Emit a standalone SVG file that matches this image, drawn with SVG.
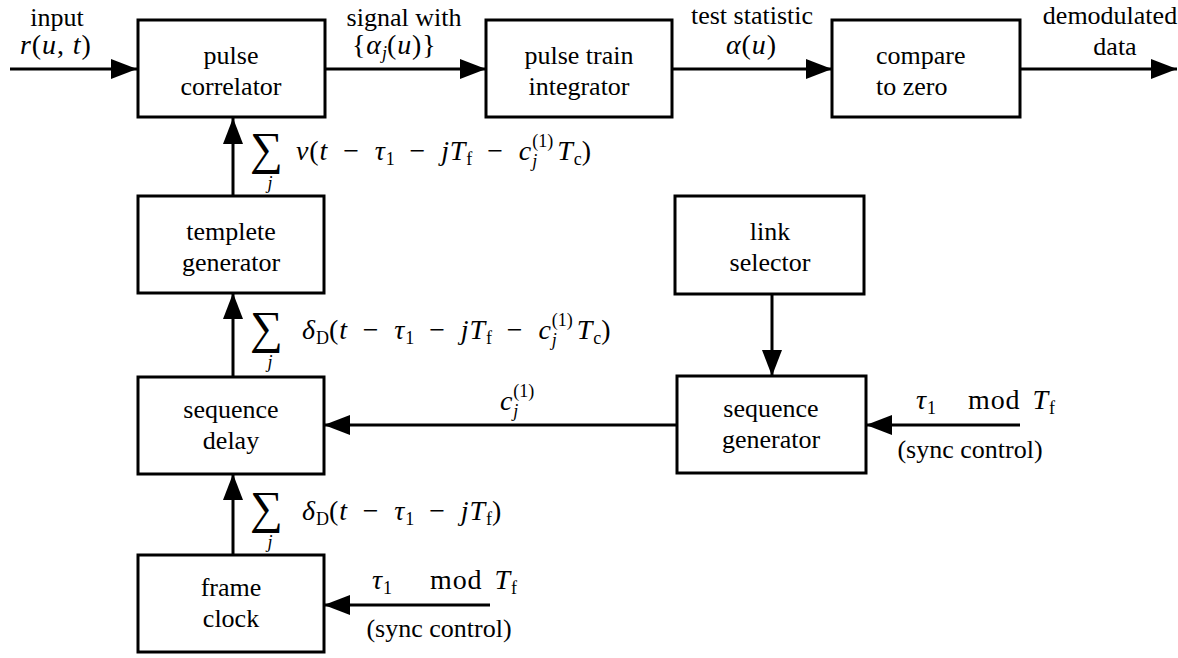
<svg xmlns="http://www.w3.org/2000/svg" width="1178" height="658" viewBox="0 0 1178 658" font-family="Liberation Serif, serif">
<style>
.box{fill:#fff;stroke:#000;stroke-width:3}
.ln{fill:none;stroke:#000;stroke-width:3}
text{fill:#000;font-family:"Liberation Serif",serif}
.t{font-size:26px;text-anchor:middle}
.tl{font-size:26px}
.m{font-size:28px;letter-spacing:0.9px}
.i{font-style:italic}
.sb{font-size:18px;letter-spacing:0}
.sum{font-size:46px}
.sj{font-size:18px;font-style:italic;text-anchor:middle}
</style>
<defs>
<marker id="ah" markerUnits="userSpaceOnUse" markerWidth="26" markerHeight="20" refX="26" refY="10" orient="auto">
<path d="M0,0 L26,10 L0,20 z" fill="#000"/>
</marker>
</defs>
<rect width="1178" height="658" fill="#fff"/>
<g id="connectors">
<line class="ln" x1="10" y1="69" x2="137" y2="69" marker-end="url(#ah)"/>
<line class="ln" x1="325" y1="69" x2="486" y2="69" marker-end="url(#ah)"/>
<line class="ln" x1="672" y1="69" x2="832" y2="69" marker-end="url(#ah)"/>
<line class="ln" x1="1020" y1="69" x2="1177" y2="69" marker-end="url(#ah)"/>
<line class="ln" x1="233" y1="196" x2="233" y2="118" marker-end="url(#ah)"/>
<line class="ln" x1="233" y1="377" x2="233" y2="293" marker-end="url(#ah)"/>
<line class="ln" x1="233" y1="555" x2="233" y2="474" marker-end="url(#ah)"/>
<line class="ln" x1="772" y1="294" x2="772" y2="376" marker-end="url(#ah)"/>
<line class="ln" x1="677" y1="425" x2="324" y2="425" marker-end="url(#ah)"/>
<line class="ln" x1="1020" y1="425" x2="866" y2="425" marker-end="url(#ah)"/>
<line class="ln" x1="490" y1="605" x2="324" y2="605" marker-end="url(#ah)"/>
</g>
<g id="pulse-correlator">
<rect class="box" x="138" y="20" width="187" height="97"/>
<text class="t" x="231" y="64">pulse</text>
<text class="t" x="231" y="95">correlator</text>
</g>
<g id="pulse-train-integrator">
<rect class="box" x="486" y="20" width="186" height="97"/>
<text class="t" x="579" y="64">pulse train</text>
<text class="t" x="579" y="95">integrator</text>
</g>
<g id="compare-to-zero">
<rect class="box" x="832" y="20" width="188" height="97"/>
<text class="tl" x="876" y="64">compare</text>
<text class="tl" x="876" y="95">to zero</text>
</g>
<g id="templete-generator">
<rect class="box" x="138" y="196" width="186" height="97"/>
<text class="t" x="231" y="240">templete</text>
<text class="t" x="231" y="271">generator</text>
</g>
<g id="link-selector">
<rect class="box" x="675" y="196" width="189" height="98"/>
<text class="t" x="770" y="240">link</text>
<text class="t" x="770" y="271">selector</text>
</g>
<g id="sequence-delay">
<rect class="box" x="138" y="377" width="186" height="97"/>
<text class="t" x="231" y="418">sequence</text>
<text class="t" x="231" y="449">delay</text>
</g>
<g id="sequence-generator">
<rect class="box" x="677" y="376" width="189" height="97"/>
<text class="t" x="771" y="417">sequence</text>
<text class="t" x="771" y="448">generator</text>
</g>
<g id="frame-clock">
<rect class="box" x="138" y="555" width="186" height="97"/>
<text class="t" x="231" y="596">frame</text>
<text class="t" x="231" y="627">clock</text>
</g>
<g id="labels">
<text class="t" x="57" y="26">input</text>
<text class="m" x="20" y="54"><tspan class="i">r</tspan>(<tspan class="i">u</tspan>, <tspan class="i">t</tspan>)</text>
<text class="t" x="404" y="26">signal with</text>
<text class="m" x="352" y="54">{<tspan class="i">α</tspan><tspan class="sb i" dy="5">j</tspan><tspan dy="-5">(</tspan><tspan class="i">u</tspan>)}</text>
<text class="t" x="752" y="24">test statistic</text>
<text class="m" x="726" y="54"><tspan class="i">α</tspan>(<tspan class="i">u</tspan>)</text>
<text class="t" x="1110" y="24">demodulated</text>
<text class="t" x="1115" y="55">data</text>

<text class="sum" x="250" y="164">∑</text>
<text class="sj" x="270" y="189">j</text>
<text class="m" x="296" y="160"><tspan class="i">v</tspan>(<tspan class="i">t</tspan>&#8194;−&#8194;<tspan class="i">τ</tspan><tspan class="sb" dy="5">1</tspan><tspan dy="-5">&#8194;−&#8194;</tspan><tspan class="i">jT</tspan><tspan class="sb" dy="5">f</tspan><tspan dy="-5">&#8194;−&#8194;</tspan><tspan class="i">c</tspan><tspan class="sb i" dy="7">j</tspan><tspan class="sb" dx="-5" dy="-20">(1)</tspan><tspan class="i" dx="4" dy="13">T</tspan><tspan class="sb" dy="5">c</tspan><tspan dy="-5">)</tspan></text>

<text class="sum" x="250" y="343">∑</text>
<text class="sj" x="270" y="368">j</text>
<text class="m" x="302" y="339"><tspan class="i">δ</tspan><tspan class="sb" dy="5">D</tspan><tspan dy="-5">(</tspan><tspan class="i">t</tspan>&#8194;−&#8194;<tspan class="i">τ</tspan><tspan class="sb" dy="5">1</tspan><tspan dy="-5">&#8194;−&#8194;</tspan><tspan class="i">jT</tspan><tspan class="sb" dy="5">f</tspan><tspan dy="-5">&#8194;−&#8194;</tspan><tspan class="i">c</tspan><tspan class="sb i" dy="7">j</tspan><tspan class="sb" dx="-5" dy="-20">(1)</tspan><tspan class="i" dx="4" dy="13">T</tspan><tspan class="sb" dy="5">c</tspan><tspan dy="-5">)</tspan></text>

<text class="sum" x="250" y="523">∑</text>
<text class="sj" x="270" y="548">j</text>
<text class="m" x="302" y="520"><tspan class="i">δ</tspan><tspan class="sb" dy="5">D</tspan><tspan dy="-5">(</tspan><tspan class="i">t</tspan>&#8194;−&#8194;<tspan class="i">τ</tspan><tspan class="sb" dy="5">1</tspan><tspan dy="-5">&#8194;−&#8194;</tspan><tspan class="i">jT</tspan><tspan class="sb" dy="5">f</tspan><tspan dy="-5">)</tspan></text>

<text class="m" x="500" y="410"><tspan class="i">c</tspan><tspan class="sb i" dy="7">j</tspan><tspan class="sb" dx="-5" dy="-20">(1)</tspan></text>

<text class="m" x="916" y="409"><tspan class="i">τ</tspan><tspan class="sb" dy="5">1</tspan></text>
<text class="m" x="968" y="409">mod<tspan class="i" dx="12">T</tspan><tspan class="sb" dy="5">f</tspan></text>
<text class="t" x="970" y="458">(sync control)</text>

<text class="m" x="372" y="589"><tspan class="i">τ</tspan><tspan class="sb" dy="5">1</tspan></text>
<text class="m" x="430" y="589">mod<tspan class="i" dx="12">T</tspan><tspan class="sb" dy="5">f</tspan></text>
<text class="t" x="439" y="637">(sync control)</text>
</g>
</svg>
